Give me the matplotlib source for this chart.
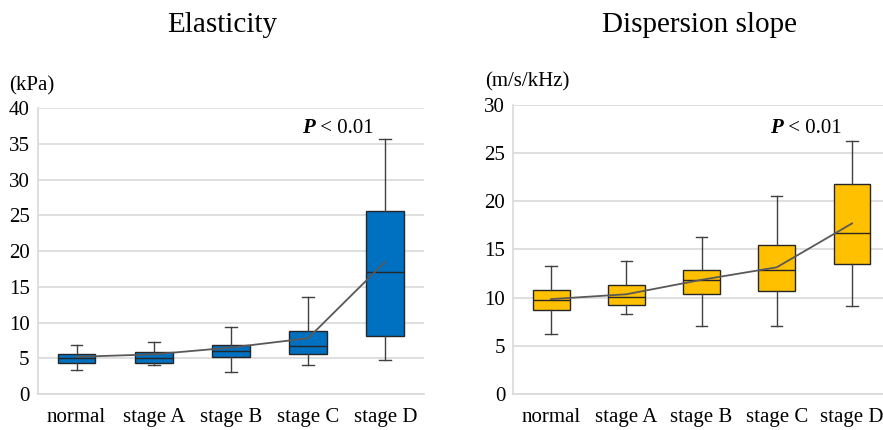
import matplotlib
matplotlib.use("Agg")
import matplotlib.pyplot as plt  # type: ignore

plt.rcParams["font.family"] = ["Liberation Serif", "DejaVu Serif"]

# categories shared by both panels
stages = ["normal", "stage A", "stage B", "stage C", "stage D"]

# elasticity (kPa): whisker low, Q1, median, Q3, whisker high, mean
el_low = [3.3, 4.0, 3.1, 4.0, 4.8]
el_q1 = [4.35, 4.35, 5.2, 5.65, 8.15]
el_med = [5.1, 5.1, 6.05, 6.75, 17.1]
el_q3 = [5.65, 5.85, 6.85, 8.75, 25.65]
el_high = [6.9, 7.3, 9.4, 13.6, 35.7]
el_mean = [5.2, 5.55, 6.5, 7.8, 18.5]

# dispersion slope (m/s/kHz)
ds_low = [6.2, 8.3, 7.1, 7.1, 9.1]
ds_q1 = [8.7, 9.25, 10.4, 10.7, 13.45]
ds_med = [9.8, 10.05, 11.8, 12.85, 16.75]
ds_q3 = [10.8, 11.3, 12.85, 15.5, 21.8]
ds_high = [13.3, 13.8, 16.3, 20.5, 26.3]
ds_mean = [9.85, 10.35, 11.85, 13.15, 17.7]

BLUE = "#0070C0"
GOLD = "#FFC000"
GRID = "#d9d9d9"


def draw_panel(ax, low, q1, med, q3, high, mean, color, ymax, unit, p_xy):
    stats = []
    for i, name in enumerate(stages):
        stats.append({"label": name, "whislo": low[i], "q1": q1[i], "med": med[i],
                      "q3": q3[i], "whishi": high[i], "fliers": []})
    pos = list(range(len(stages)))
    ax.bxp(stats, positions=pos, widths=0.49, patch_artist=True, showfliers=False,
           boxprops=dict(facecolor=color, edgecolor="#262626", linewidth=1.0),
           medianprops=dict(color="#262626", linewidth=1.0),
           whiskerprops=dict(color="#404040", linewidth=1.0),
           capprops=dict(color="#404040", linewidth=1.0),
           capwidths=0.15, zorder=3)
    ax.plot(pos, mean, color="#595959", linewidth=1.3, zorder=4)

    ax.set_xlim(-0.5, len(stages) - 0.5)
    ax.set_ylim(0, ymax)
    ax.set_yticks(range(0, ymax + 1, 5))
    ax.set_xticks(pos)
    ax.set_xticklabels(stages)
    ax.grid(axis="y", color=GRID, linewidth=1.2, zorder=0)
    ax.set_axisbelow(True)
    for s in ["top", "right"]:
        ax.spines[s].set_visible(False)
    for s in ["left", "bottom"]:
        ax.spines[s].set_color(GRID)
        ax.spines[s].set_linewidth(1.2)
    ax.tick_params(axis="both", length=0, labelsize=15, colors="black")
    ax.tick_params(axis="y", pad=6)
    ax.tick_params(axis="x", pad=10)

    ptxt = ax.text(p_xy[0], p_xy[1], "P", fontsize=15, fontweight="bold",
                   fontstyle="italic", ha="left", va="center")
    ax.annotate(" < 0.01", xy=(1, 0), xycoords=ptxt, fontsize=15,
                ha="left", va="bottom")
    ax.text(-0.12, 1.055, unit, transform=ax.transAxes, fontsize=15,
            ha="left", va="bottom")


fig = plt.figure(figsize=(8.83, 4.30), dpi=100)
ax1 = fig.add_axes([0.043, 0.0837, 0.437, 0.665])
ax2 = fig.add_axes([0.5815, 0.0837, 0.426, 0.6723])

draw_panel(ax1, el_low, el_q1, el_med, el_q3, el_high, el_mean, BLUE, 40,
           "(kPa)", (2.92, 37.2))
draw_panel(ax2, ds_low, ds_q1, ds_med, ds_q3, ds_high, ds_mean, GOLD, 30,
           "(m/s/kHz)", (2.91, 27.6))

ax1.texts[-1].set_position((-0.075, 1.045))
ax2.texts[-1].set_position((-0.075, 1.045))

fig.text(222 / 883, 1 - 25 / 430, "Elasticity", fontsize=21, ha="center", va="center")
fig.text(700 / 883, 1 - 25 / 430, "Dispersion slope", fontsize=21, ha="center", va="center")

fig.savefig("out.png", dpi=100)
